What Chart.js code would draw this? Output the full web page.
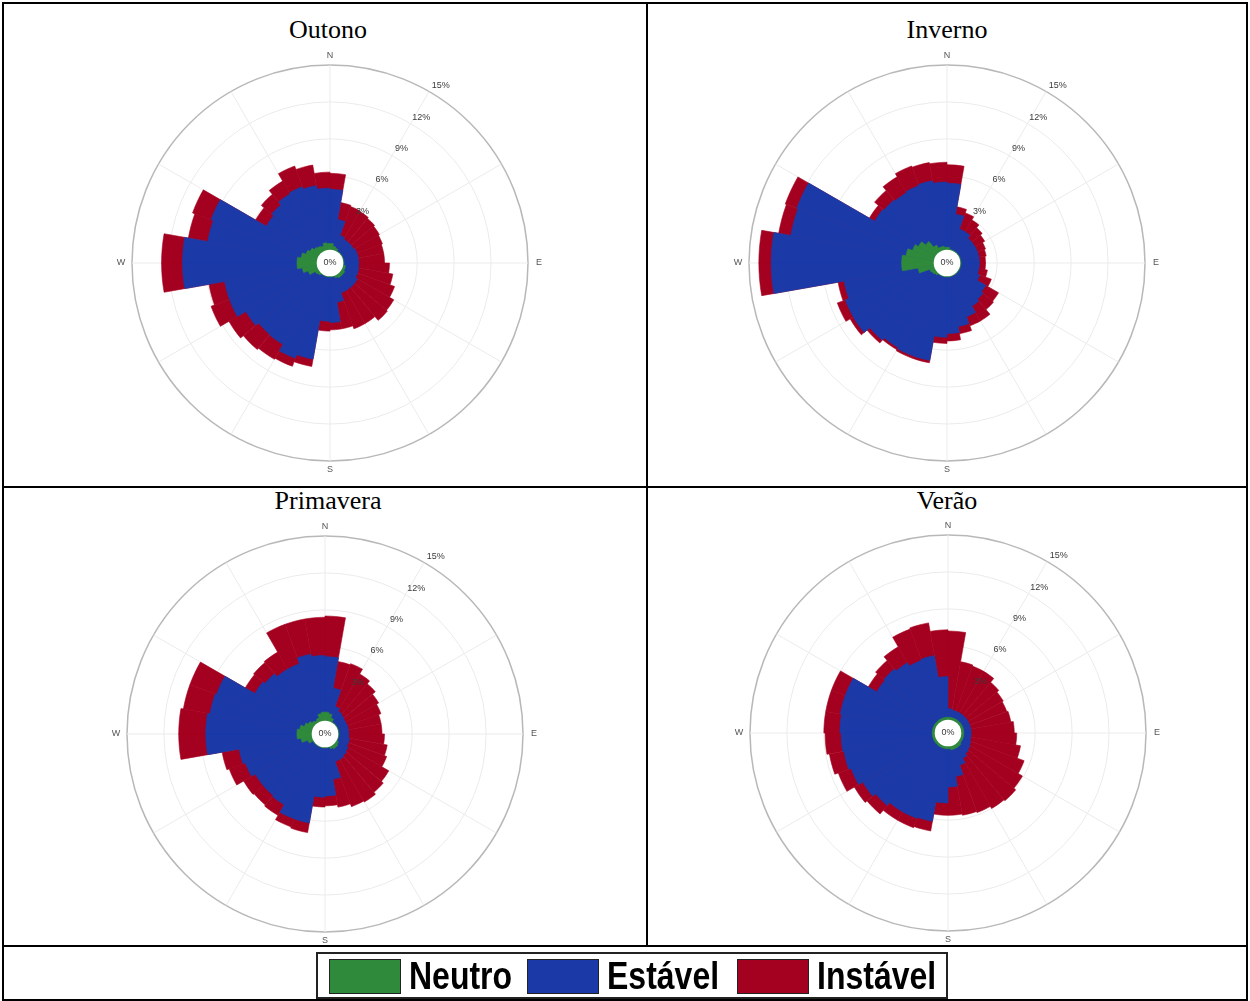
<!DOCTYPE html>
<html lang="pt">
<head>
<meta charset="utf-8">
<title>Rosas dos ventos por estação</title>
<script src="https://cdn.jsdelivr.net/npm/chart.js@4.4.1/dist/chart.umd.min.js"></script>
<style>
  body { margin: 0; background: #fff; }
  #page { position: relative; width: 1250px; height: 1001px; overflow: hidden; background: #fff; }
  .line { position: absolute; background: #000; z-index: 5; }
  .title { position: absolute; width: 300px; text-align: center; font-family: "Liberation Serif", "Times New Roman", serif; font-size: 26px; line-height: 26px; color: #000; }
  .rose { position: absolute; }
  .legend-frame { position: absolute; left: 316px; top: 952px; width: 628px; height: 43px; border: 2px solid #222; }
  .swatch { position: absolute; top: 959px; width: 70px; height: 33px; border: 1px solid #222; }
  .legend-text { position: absolute; top: 958px; font-family: "Liberation Sans", Arial, sans-serif; font-weight: bold; font-size: 32px; line-height: 36px; color: #000; transform: scaleY(1.22); transform-origin: 50% 50%; }
</style>
</head>
<body>
<div id="page">
  <div class="line" style="left:2px; top:2px; width:1246px; height:2px;"></div>
  <div class="line" style="left:2px; top:486px; width:1246px; height:2px;"></div>
  <div class="line" style="left:2px; top:945px; width:1246px; height:2px;"></div>
  <div class="line" style="left:2px; top:999px; width:1246px; height:2px;"></div>
  <div class="line" style="left:2px; top:2px; width:2px; height:999px;"></div>
  <div class="line" style="left:1246px; top:2px; width:2px; height:999px;"></div>
  <div class="line" style="left:646px; top:2px; width:2px; height:945px;"></div>

  <div class="title" id="title0" style="left:178px; top:17px;"></div>
  <div class="title" id="title1" style="left:797px; top:17px;"></div>
  <div class="title" id="title2" style="left:178px; top:488px;"></div>
  <div class="title" id="title3" style="left:797px; top:488px;"></div>

  <canvas class="rose" id="rose0" width="440" height="440" style="left:110px; top:43px;"></canvas>
  <canvas class="rose" id="rose1" width="440" height="440" style="left:727px; top:43px;"></canvas>
  <canvas class="rose" id="rose2" width="440" height="440" style="left:105px; top:514px;"></canvas>
  <canvas class="rose" id="rose3" width="440" height="440" style="left:728px; top:513px;"></canvas>

  <div class="legend-frame"></div>
  <div class="swatch" id="sw0" style="left:329px;"></div>
  <div class="legend-text" id="lt0" style="left:409px;"></div>
  <div class="swatch" id="sw1" style="left:527px;"></div>
  <div class="legend-text" id="lt1" style="left:607px;"></div>
  <div class="swatch" id="sw2" style="left:737px;"></div>
  <div class="legend-text" id="lt2" style="left:817px;"></div>
</div>

<script>
// sectors of 10 degrees, clockwise from north
const directions = ["0°", "10°", "20°", "30°", "40°", "50°", "60°", "70°", "80°", "90°",
  "100°", "110°", "120°", "130°", "140°", "150°", "160°", "170°", "180°", "190°",
  "200°", "210°", "220°", "230°", "240°", "250°", "260°", "270°", "280°", "290°",
  "300°", "310°", "320°", "330°", "340°", "350°"];

const seasons = ["Outono", "Inverno", "Primavera", "Verão"];
const classNames = ["Neutro", "Estável", "Instável"];
const classColors = ["#2f8b3b", "#1b3aa8", "#a4001f"];
const tickValues = [0, 3, 6, 9, 12, 15];
const cardinals = ["N", "E", "S", "W"];

// frequency (%) per sector
const outonoNeutro = [0.5, 0.3, 0.2, 0.05, 0.05, 0.05, 0.05, 0.05, 0.05, 0.05, 0.2, 0.2, 0.3, 0.3, 0.3, 0.2, 0.05, 0.05,
  0.05, 0.05, 0.05, 0.05, 0.2, 0.3, 0.8, 1.2, 1.6, 1.6, 1.3, 1.0, 0.8, 0.6, 0.5, 0.4, 0.6, 0.5];
const outonoEstavel = [4.4, 2.2, 1.1, 1.1, 1.1, 1.1, 1.2, 1.2, 1.2, 1.2, 1.1, 1.1, 1.2, 1.2, 1.2, 1.3, 2.1, 3.7,
  3.6, 6.8, 7.1, 6.5, 6.3, 6.5, 6.8, 6.4, 9.3, 9.3, 7.7, 8.2, 4.1, 4.5, 4.9, 5.1, 4.7, 4.5];
const outonoInstavel = [1.3, 1.4, 2.5, 2.6, 2.5, 2.4, 2.2, 2.1, 2.1, 2.5, 2.8, 3.2, 3.4, 3.5, 3.1, 3.1, 2.2, 0.6,
  0.8, 0.6, 0.7, 1.4, 1.6, 1.6, 1.6, 1.3, 1.7, 1.7, 1.6, 1.6, 1.0, 1.1, 1.2, 1.8, 1.7, 1.3];

const invernoNeutro = [0.2, 0.05, 0.05, 0.05, 0.05, 0.05, 0.05, 0.05, 0.05, 0.05, 0.05, 0.05, 0.05, 0.05, 0.05, 0.05, 0.05, 0.05,
  0.05, 0.05, 0.05, 0.05, 0.2, 0.3, 0.4, 1.3, 2.6, 2.6, 2.3, 1.9, 1.6, 1.2, 0.6, 0.3, 0.3, 0.2];
const invernoEstavel = [5.2, 2.9, 1.8, 1.8, 1.5, 1.5, 1.5, 1.5, 1.5, 1.5, 1.5, 1.7, 2.5, 2.7, 2.9, 3.5, 4.1, 4.6,
  4.9, 6.9, 6.9, 6.8, 6.9, 7.4, 7.3, 6.1, 10.6, 10.6, 9.5, 10.0, 4.1, 4.4, 4.9, 5.3, 5.4, 5.3];
const invernoInstavel = [1.5, 0.6, 1.4, 1.1, 1.1, 0.9, 0.7, 0.6, 0.5, 0.5, 0.7, 1.0, 1.2, 1.1, 1.4, 0.8, 0.6, 0.6,
  0.5, 0.2, 0.2, 0.2, 0.3, 0.3, 0.7, 0.5, 1.0, 1.0, 1.0, 1.0, 0.5, 1.0, 1.5, 1.7, 1.5, 1.6];

const primaveraNeutro = [0.7, 0.6, 0.3, 0.05, 0.05, 0.05, 0.05, 0.05, 0.05, 0.05, 0.05, 0.05, 0.2, 0.3, 0.3, 0.2, 0.05, 0.05,
  0.05, 0.05, 0.05, 0.05, 0.05, 0.05, 0.4, 0.9, 1.2, 1.2, 1.0, 0.7, 0.5, 0.3, 0.2, 0.3, 0.6, 0.7];
const primaveraEstavel = [4.5, 2.1, 1.0, 1.0, 0.9, 0.8, 0.8, 0.8, 0.8, 0.8, 0.9, 0.9, 0.9, 0.9, 1.0, 1.1, 2.6, 3.9,
  4.0, 6.2, 6.2, 5.5, 5.4, 5.4, 5.4, 5.1, 7.4, 7.4, 7.4, 7.6, 5.0, 5.0, 4.8, 4.7, 4.9, 4.6];
const primaveraInstavel = [3.3, 2.2, 3.7, 3.5, 3.3, 3.1, 2.9, 2.7, 2.7, 2.9, 3.1, 3.3, 3.8, 3.9, 4.0, 3.9, 2.3, 0.8,
  0.8, 0.8, 0.7, 1.0, 1.0, 1.1, 1.4, 1.4, 2.2, 2.2, 2.2, 2.3, 0.9, 1.2, 1.6, 3.4, 2.9, 3.1];

const veraoNeutro = [0.2, 0.2, 0.2, 0.2, 0.2, 0.2, 0.2, 0.2, 0.2, 0.2, 0.2, 0.2, 0.2, 0.3, 0.3, 0.3, 0.3, 0.2,
  0.2, 0.2, 0.2, 0.2, 0.2, 0.2, 0.2, 0.2, 0.2, 0.2, 0.2, 0.2, 0.2, 0.2, 0.2, 0.2, 0.2, 0.2];
const veraoEstavel = [0.7, 0.6, 0.6, 0.6, 0.6, 0.6, 0.6, 0.6, 0.6, 0.6, 0.6, 0.7, 0.8, 0.8, 1.0, 1.4, 2.2, 3.1,
  4.4, 6.0, 6.1, 6.1, 6.4, 6.7, 7.1, 7.3, 7.4, 7.5, 7.6, 7.6, 5.4, 5.5, 5.3, 5.0, 5.1, 3.3];
const veraoInstavel = [6.3, 4.0, 3.9, 3.9, 3.5, 3.3, 3.2, 3.3, 3.5, 3.7, 4.1, 4.6, 4.9, 5.0, 4.7, 4.1, 3.2, 2.3,
  1.0, 0.8, 0.8, 0.8, 0.9, 0.8, 1.1, 1.2, 1.3, 1.3, 1.2, 1.2, 0.8, 0.9, 1.5, 2.7, 2.7, 3.8];

const seasonSeries = [
  [outonoNeutro, outonoEstavel, outonoInstavel],
  [invernoNeutro, invernoEstavel, invernoInstavel],
  [primaveraNeutro, primaveraEstavel, primaveraInstavel],
  [veraoNeutro, veraoEstavel, veraoInstavel]
];

const scaleMin = -1.08; // leaves the empty hole in the middle
const scaleMax = 15;
const labelAngle = 32;

// polar area arcs overlap, so each class is drawn at its cumulative height
function stackSeries(series) {
  let running = directions.map(() => 0);
  return series.map((values) => {
    running = running.map((v, i) => Math.round((v + values[i]) * 100) / 100);
    return running;
  });
}

const roseOverlay = {
  id: "roseOverlay",
  afterDatasetsDraw(chart) {
    const scale = chart.scales.r;
    const ctx = chart.ctx;
    const cx = scale.xCenter;
    const cy = scale.yCenter;
    const outer = scale.getDistanceFromCenterForValue(scaleMax);

    ctx.save();
    ctx.beginPath();
    ctx.arc(cx, cy, scale.getDistanceFromCenterForValue(0), 0, Math.PI * 2);
    ctx.fillStyle = "#fff";
    ctx.fill();

    ctx.font = '9px "Liberation Sans", Arial, sans-serif';
    ctx.textAlign = "center";
    ctx.textBaseline = "middle";
    ctx.fillStyle = "#3a3a3a";
    const a = labelAngle * Math.PI / 180;
    tickValues.forEach((v) => {
      if (v === 0) {
        ctx.fillText(v + "%", cx, cy);
        return;
      }
      const d = scale.getDistanceFromCenterForValue(v) + 11;
      ctx.fillText(v + "%", cx + d * Math.sin(a), cy - d * Math.cos(a));
    });

    ctx.fillStyle = "#555";
    cardinals.forEach((label, i) => {
      const ang = i * Math.PI / 2;
      const d = outer + (i % 2 === 0 ? 9 : 11);
      ctx.fillText(label, cx + d * Math.sin(ang), cy - d * Math.cos(ang));
    });
    ctx.restore();
  }
};

function buildRose(index) {
  const stacked = stackSeries(seasonSeries[index]);

  new Chart(document.getElementById("rose" + index), {
    type: "polarArea",
    data: {
      labels: directions,
      datasets: classNames.map((name, k) => ({
        label: name,
        data: stacked[k],
        backgroundColor: classColors[k],
        borderColor: classColors[k],
        borderWidth: 0.6
      }))
    },
    options: {
      responsive: false,
      animation: false,
      layout: { padding: 22 },
      plugins: {
        legend: { display: false },
        tooltip: { enabled: false }
      },
      scales: {
        r: {
          min: scaleMin,
          max: scaleMax,
          startAngle: 0,
          afterBuildTicks: (scale) => {
            scale.ticks = tickValues.map((v) => ({ value: v }));
          },
          ticks: { display: false },
          pointLabels: { display: false },
          grid: {
            circular: true,
            color: (ctx) => {
              if (ctx.tick.value === 0) return "rgba(0,0,0,0)";
              return ctx.tick.value === scaleMax ? "#b8b8b8" : "#ebebeb";
            },
            lineWidth: (ctx) => (ctx.tick.value === scaleMax ? 1.5 : 1)
          },
          angleLines: {
            display: true,
            color: "#ebebeb",
            lineWidth: (ctx) => (ctx.index % 3 === 0 ? 1 : 0)
          }
        }
      }
    },
    plugins: [roseOverlay]
  });
}

seasons.forEach((name, i) => {
  document.getElementById("title" + i).textContent = name;
  buildRose(i);
});

classNames.forEach((name, k) => {
  document.getElementById("sw" + k).style.background = classColors[k];
  document.getElementById("lt" + k).textContent = name;
});
</script>
</body>
</html>
